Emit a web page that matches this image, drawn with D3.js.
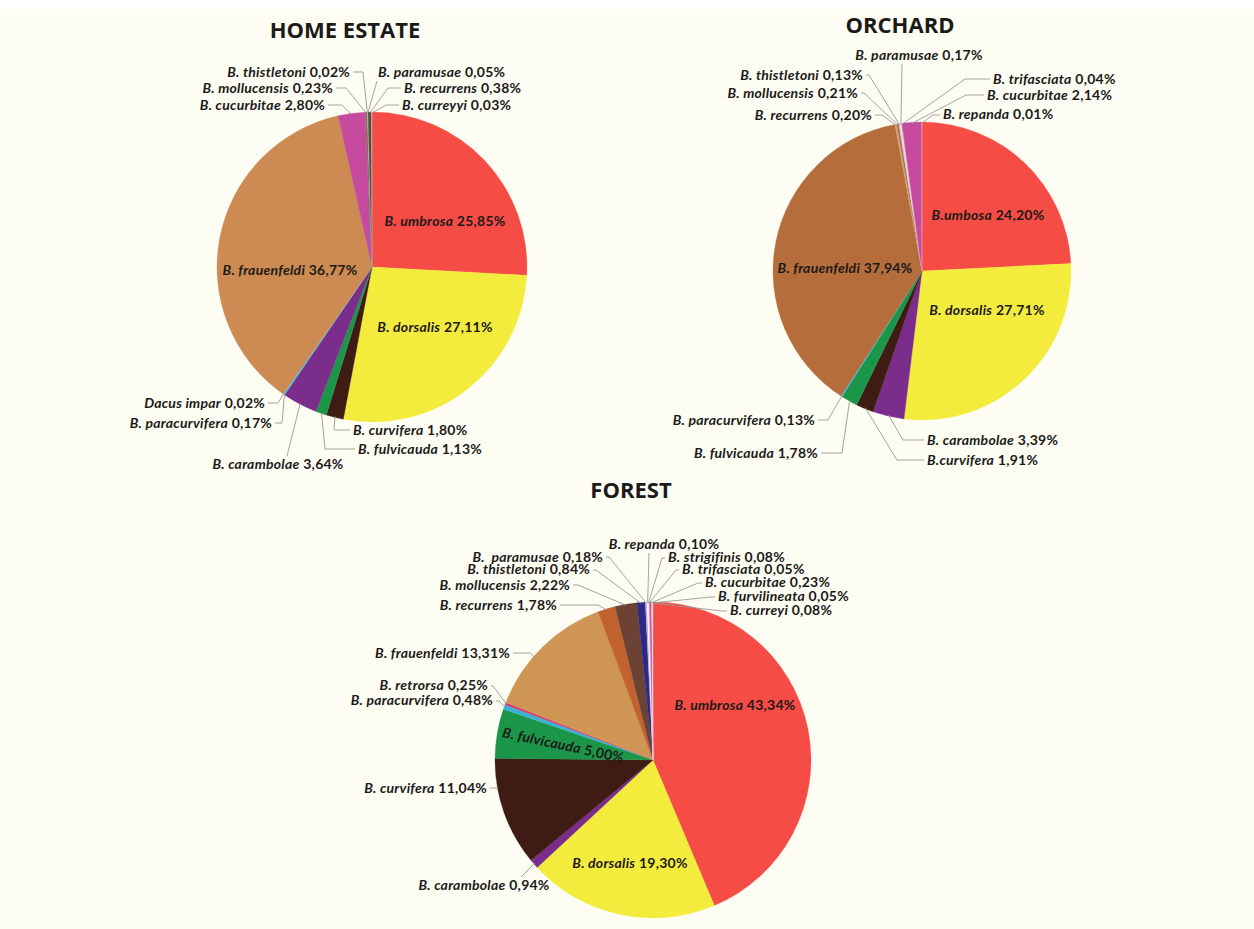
<!DOCTYPE html>
<html>
<head>
<meta charset="utf-8">
<script src="https://cdn.jsdelivr.net/npm/d3@7"></script>
<style>
  body { margin: 0; background: #fdfdf4; }
  svg { display: block; }
  text { font-family: Lato, "Open Sans", sans-serif; fill: #1c1a18; }
</style>
</head>
<body>
<script>
// ---- data (percentages) ----
const homeNames = ['B. umbrosa', 'B. dorsalis', 'B. curvifera', 'B. fulvicauda', 'B. carambolae',
  'B. paracurvifera', 'Dacus impar', 'B. frauenfeldi', 'B. cucurbitae', 'B. mollucensis',
  'B. thistletoni', 'B. paramusae', 'B. recurrens', 'B. curreyyi'];
const homeValues = [25.85, 27.11, 1.80, 1.13, 3.64, 0.17, 0.02, 36.77, 2.80, 0.23, 0.02, 0.05, 0.38, 0.03];

const orchardNames = ['B.umbosa', 'B. dorsalis', 'B. carambolae', 'B.curvifera', 'B. fulvicauda',
  'B. paracurvifera', 'B. frauenfeldi', 'B. recurrens', 'B. mollucensis', 'B. thistletoni',
  'B. paramusae', 'B. trifasciata', 'B. cucurbitae', 'B. repanda'];
const orchardValues = [24.20, 27.71, 3.39, 1.91, 1.78, 0.13, 37.94, 0.20, 0.21, 0.13, 0.17, 0.04, 2.14, 0.01];

const forestNames = ['B. umbrosa', 'B. dorsalis', 'B. carambolae', 'B. curvifera', 'B. fulvicauda',
  'B. paracurvifera', 'B. retrorsa', 'B. frauenfeldi', 'B. recurrens', 'B. mollucensis',
  'B. thistletoni', 'B.  paramusae', 'B. repanda', 'B. strigifinis', 'B. trifasciata',
  'B. cucurbitae', 'B. furvilineata', 'B. curreyi'];
const forestValues = [43.34, 19.30, 0.94, 11.04, 5.00, 0.48, 0.25, 13.31, 1.78, 2.22, 0.84, 0.18,
  0.10, 0.08, 0.05, 0.23, 0.05, 0.08];

// ---- colours ----
const homeColors = ['#f54c45', '#f4ec3d', '#3e1c14', '#1b9548', '#7b2d8b', '#3ab2d4', '#e0c0a0',
  '#cd8a52', '#c64b9e', '#8a6a60', '#b0a090', '#d8d0c8', '#5a4a45', '#e8e0d8'];
const orchardColors = ['#f54c45', '#f4ec3d', '#7b2d8b', '#3e1c14', '#1b9548', '#3ab2d4', '#b56d3b',
  '#d9a070', '#a07060', '#e0c8c0', '#f2d8e0', '#e8a0c0', '#c64b9e', '#f6d0d0'];
const forestColors = ['#f54c45', '#f4ec3d', '#7b2d8b', '#3e1c14', '#1b9548', '#3ab2d4', '#d83a6a',
  '#cf9555', '#c2622f', '#6b4233', '#2d2a86', '#b8b0d0', '#ffffff', '#e8e4ee', '#f6d0dc',
  '#d24ea2', '#ffffff', '#f8d8d8'];

// ---- label layout: baseline position, anchor, leader bend ----
const homeLabels = [
  { x: 445, y: 226, a: 'middle', inside: true },
  { x: 435, y: 332, a: 'middle', inside: true },
  { x: 353, y: 435, a: 'start', bend: [334, 430] },
  { x: 358, y: 454, a: 'start', bend: [325, 449] },
  { x: 278, y: 469, a: 'middle', bend: [287, 456], tail: false },
  { x: 272, y: 428, a: 'end', bend: [282, 423] },
  { x: 265, y: 408, a: 'end', bend: [278, 403] },
  { x: 290, y: 275, a: 'middle', inside: true },
  { x: 325, y: 110, a: 'end', bend: [342, 105] },
  { x: 333, y: 93, a: 'end', bend: [346, 88] },
  { x: 350, y: 77, a: 'end', bend: [363, 72] },
  { x: 378, y: 77, a: 'start', bend: [377, 81], tail: false },
  { x: 404, y: 93, a: 'start', bend: [388, 88] },
  { x: 402, y: 110, a: 'start', bend: [386, 105] }
];
const orchardLabels = [
  { x: 988, y: 220, a: 'middle', inside: true },
  { x: 987, y: 315, a: 'middle', inside: true },
  { x: 927, y: 445, a: 'start', bend: [903, 440] },
  { x: 927, y: 465, a: 'start', bend: [897, 460] },
  { x: 818, y: 458, a: 'end', bend: [842, 453] },
  { x: 815, y: 425, a: 'end', bend: [828, 420] },
  { x: 845, y: 273, a: 'middle', inside: true },
  { x: 872, y: 120, a: 'end', bend: [882, 115] },
  { x: 858, y: 98, a: 'end', bend: [864, 93] },
  { x: 863, y: 80, a: 'end', bend: [869, 75] },
  { x: 919, y: 60, a: 'middle', bend: [902, 64], tail: false },
  { x: 993, y: 84, a: 'start', bend: [965, 79] },
  { x: 987, y: 100, a: 'start', bend: [966, 95] },
  { x: 943, y: 119, a: 'start', bend: [933, 115] }
];
const forestLabels = [
  { x: 735, y: 710, a: 'middle', inside: true },
  { x: 630, y: 868, a: 'middle', inside: true },
  { x: 484, y: 890, a: 'middle', bend: [521, 877], tail: false },
  { x: 487, y: 793, a: 'end', bend: [497, 788], at: 260 },
  { x: 563, y: 750, a: 'middle', inside: true, rot: 12 },
  { x: 493, y: 705, a: 'end', bend: [499, 701] },
  { x: 488, y: 690, a: 'end', bend: [493, 686] },
  { x: 510, y: 658, a: 'end', bend: [530, 653], at: 311 },
  { x: 557, y: 610, a: 'end', bend: [598, 605] },
  { x: 570, y: 590, a: 'end', bend: [578, 585] },
  { x: 590, y: 574, a: 'end', bend: [596, 570] },
  { x: 603, y: 562, a: 'end', bend: [609, 557] },
  { x: 664, y: 549, a: 'middle', bend: [649, 553], tail: false },
  { x: 668, y: 562, a: 'start', bend: [662, 558] },
  { x: 682, y: 574, a: 'start', bend: [676, 570] },
  { x: 705, y: 587, a: 'start', bend: [698, 583] },
  { x: 718, y: 601, a: 'start', bend: [711, 597] },
  { x: 730, y: 615, a: 'start', bend: [722, 611] }
];

const W = 1254, H = 929;
const svg = d3.select('body').append('svg').attr('width', W).attr('height', H);
svg.append('rect').attr('width', W).attr('height', H).attr('fill', '#fdfdf4');
svg.append('rect').attr('width', W).attr('height', 9).attr('fill', '#ffffff');

const pct = v => d3.format('.2f')(v).replace('.', ',') + '%';

function drawPie(title, tx, ty, cx, cy, r, names, values, colors, labels) {
  svg.append('text')
    .attr('x', tx).attr('y', ty)
    .attr('text-anchor', 'middle')
    .style('font-family', '"Open Sans", sans-serif')
    .style('font-weight', 700)
    .style('font-size', '22px')
    .text(title);

  const pie = d3.pie().sort(null).value(d => d.v);
  const arcs = pie(names.map((n, i) => ({ n: n, v: values[i], c: colors[i], l: labels[i] })));
  const arc = d3.arc().innerRadius(0).outerRadius(r);
  const edge = d3.arc().innerRadius(r - 1).outerRadius(r - 1);

  const g = svg.append('g').attr('transform', `translate(${cx},${cy})`);
  g.selectAll('path')
    .data(arcs)
    .enter()
    .append('path')
    .attr('d', arc)
    .attr('fill', d => d.data.c)
    .attr('stroke', d => d.data.c)
    .attr('stroke-width', 0.3);

  // leader lines
  arcs.forEach(d => {
    const l = d.data.l;
    if (l.inside) return;
    let p;
    if (l.at != null) {
      const a = l.at * Math.PI / 180;
      p = [cx + (r - 1) * Math.sin(a), cy - (r - 1) * Math.cos(a)];
    } else {
      const c = edge.centroid(d);
      p = [cx + c[0], cy + c[1]];
    }
    const pts = [p, l.bend];
    if (l.tail !== false) {
      pts.push([l.a === 'end' ? l.x + 3 : l.x - 3, l.bend[1]]);
    }
    svg.append('path')
      .attr('d', d3.line()(pts))
      .attr('fill', 'none')
      .attr('stroke', '#9a9894')
      .attr('stroke-width', 0.9);
  });

  // labels
  arcs.forEach(d => {
    const l = d.data.l;
    const t = svg.append('text')
      .attr('x', l.x).attr('y', l.y)
      .attr('text-anchor', l.a)
      .style('font-size', '14px')
      .style('font-weight', 700)
      .style('letter-spacing', '0.25px')
      .style('white-space', 'pre');
    if (l.rot) t.attr('transform', `rotate(${l.rot},${l.x},${l.y - 4})`);
    t.append('tspan').style('font-style', 'italic').text(d.data.n);
    t.append('tspan').text(' ' + pct(d.data.v));
  });
}

drawPie('HOME ESTATE', 345, 38, 372, 267, 155, homeNames, homeValues, homeColors, homeLabels);
drawPie('ORCHARD', 900, 33, 922, 271, 149, orchardNames, orchardValues, orchardColors, orchardLabels);
drawPie('FOREST', 631, 498, 653, 760, 158, forestNames, forestValues, forestColors, forestLabels);
</script>
</body>
</html>
